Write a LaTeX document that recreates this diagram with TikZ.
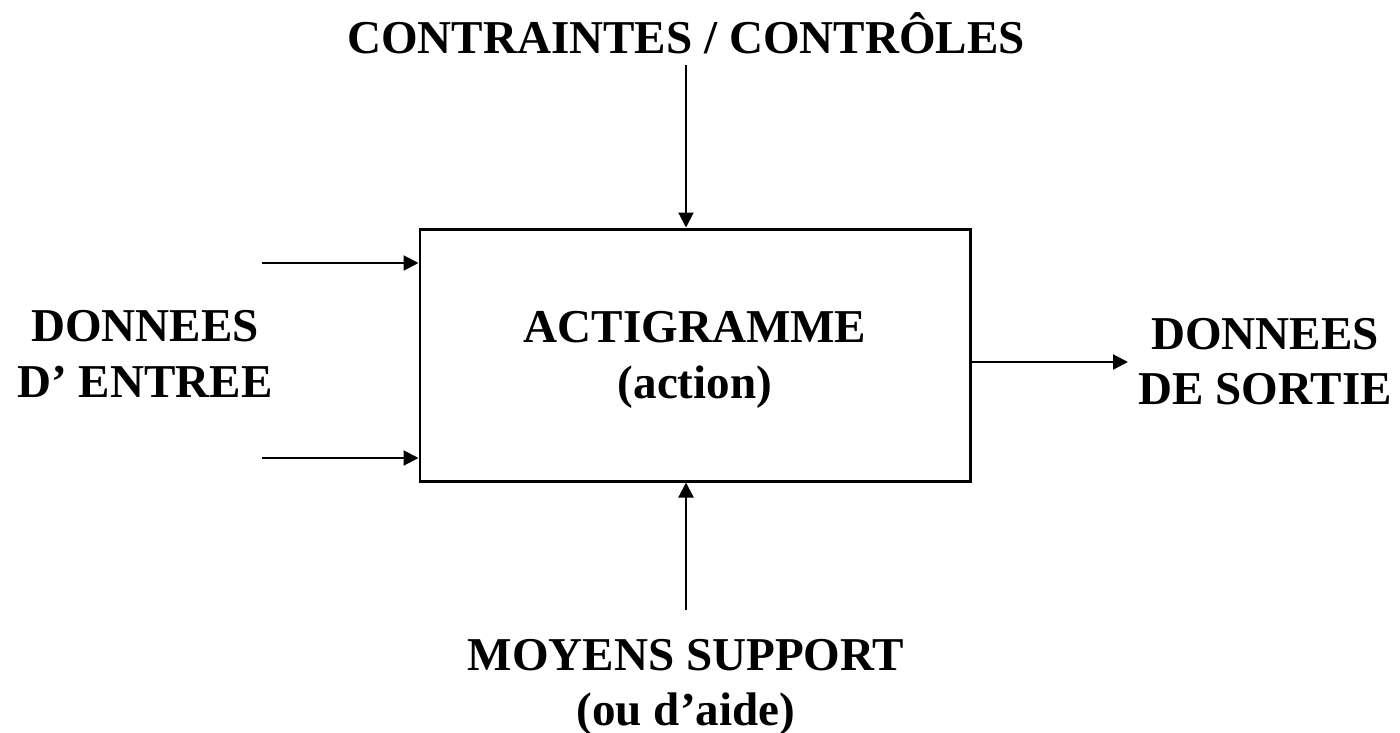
\documentclass[tikz,border=0pt]{standalone}
\usepackage{fontspec}
\setmainfont{Liberation Serif}
\usetikzlibrary{arrows.meta}

\begin{document}
\begin{tikzpicture}[
    flow/.style={-{Triangle[length=0.15cm,width=0.15cm]}, line width=0.6pt},
    lbl/.style={align=center, inner sep=0pt, font=\fontsize{13.4}{15.7}\selectfont\bfseries}]
  \useasboundingbox (0,0) rectangle (14,7.32);

  % Activity box and its title
  \node[draw, line width=0.85pt, minimum width=5.5cm, minimum height=2.52cm] (act) at (6.95,3.77) {};
  \node[lbl, yshift=-0.05cm] (act-title) at (act.center) {ACTIGRAMME\\(action)};

  % Labels around the box
  \node[lbl] (ctrl) at (6.86,6.99) {CONTRAINTES / CONTRÔLES};
  \node[lbl] (in) at (1.45,3.78) {DONNEES\\D’ ENTREE};
  \node[lbl] (out) at (12.65,3.70) {DONNEES\\DE SORTIE};
  \node[lbl] (mean) at (6.86,0.45) {MOYENS SUPPORT\\(ou d’aide)};

  % Free ends of the arrows
  \coordinate (ctrl-end) at (6.86,6.67);
  \coordinate (in1) at (2.62,4.69);
  \coordinate (in2) at (2.62,2.74);
  \coordinate (out-end) at (11.28,3.70);
  \coordinate (mean-end) at (6.86,1.22);

  % Arrows
  \draw[flow] (ctrl-end) -- (ctrl-end |- act.north);
  \draw[flow] (in1) -- (in1 -| act.west);
  \draw[flow] (in2) -- (in2 -| act.west);
  \draw[flow] (act.east |- out-end) -- (out-end);
  \draw[flow] (mean-end) -- (mean-end |- act.south);
\end{tikzpicture}
\end{document}
